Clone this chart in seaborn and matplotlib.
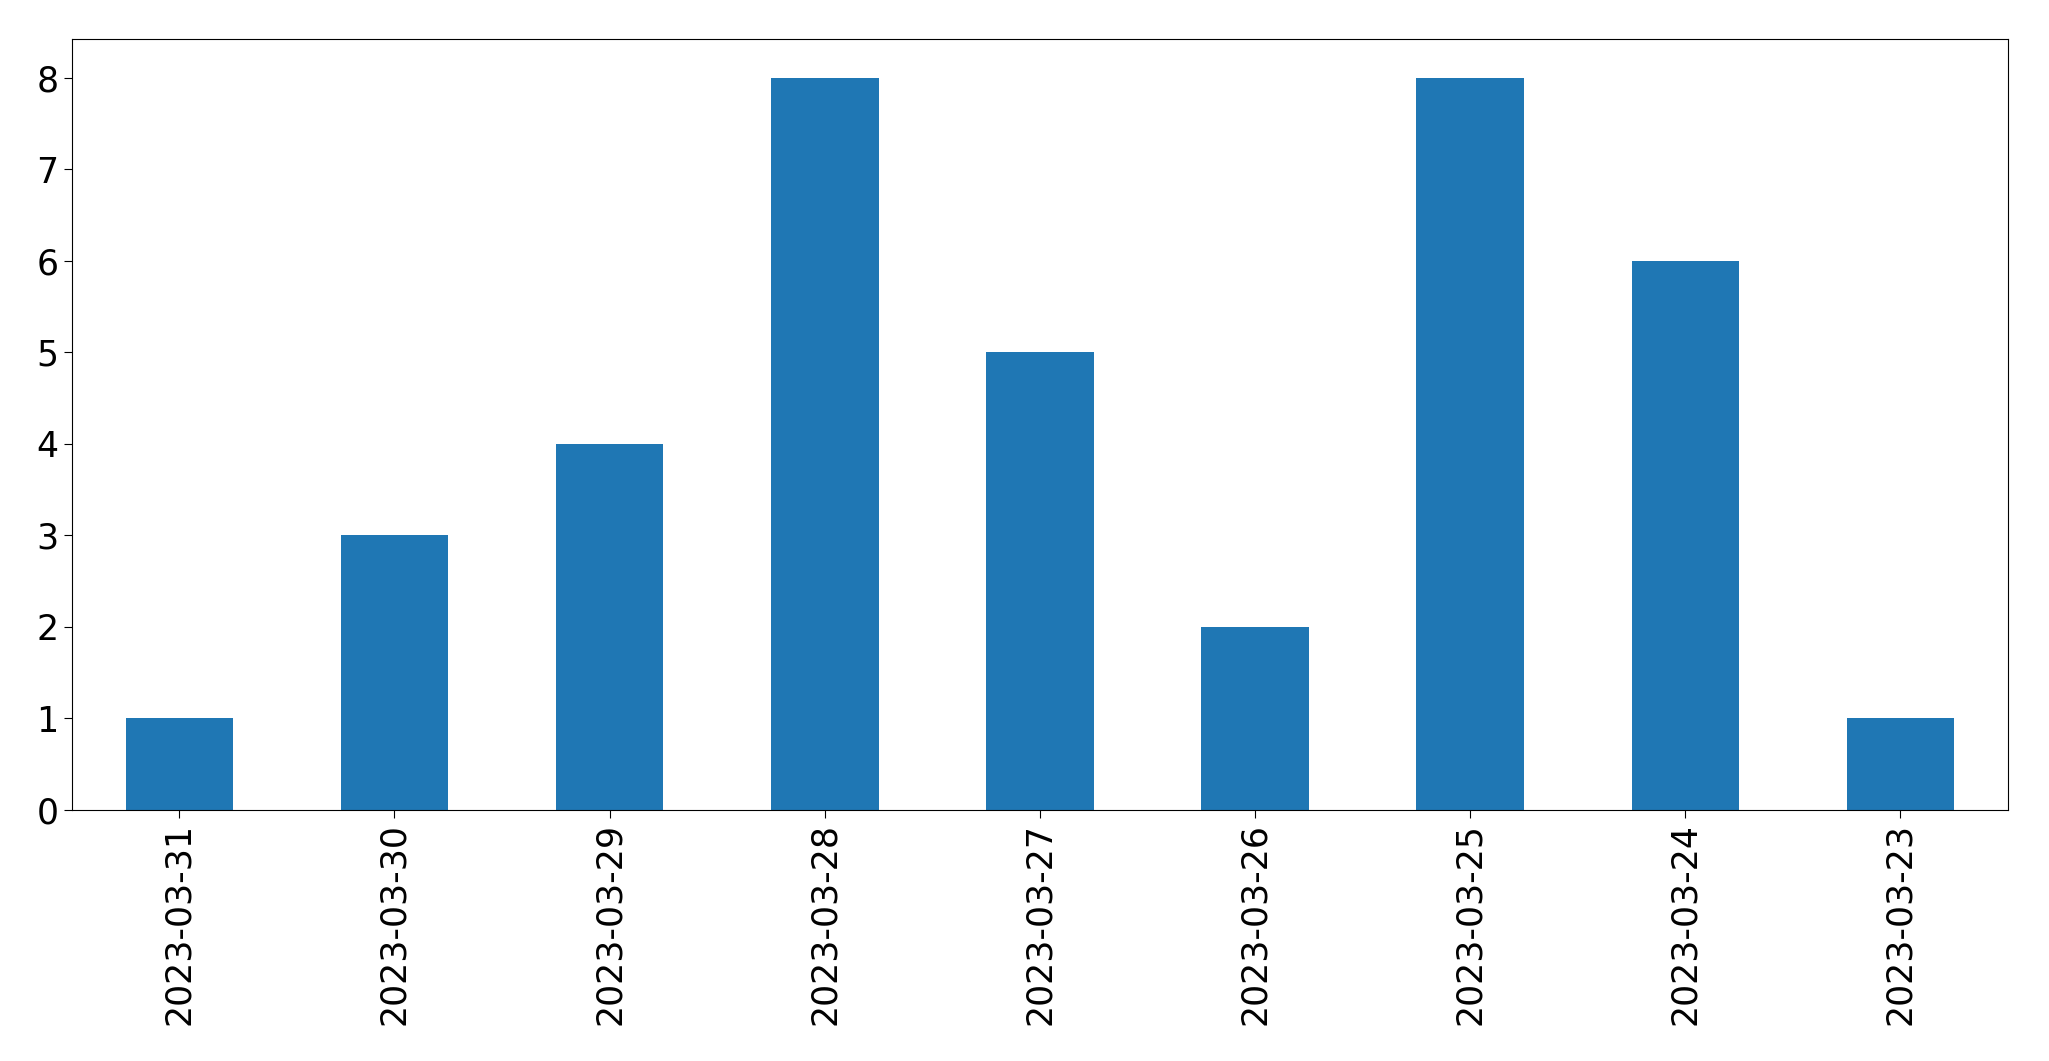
import pandas as pd
import seaborn as sns
import matplotlib
matplotlib.use("Agg")
import matplotlib.pyplot as plt

# Data
dates = ["2023-03-31", "2023-03-30", "2023-03-29", "2023-03-28", "2023-03-27",
         "2023-03-26", "2023-03-25", "2023-03-24", "2023-03-23"]
counts = [1, 3, 4, 8, 5, 2, 8, 6, 1]

df = pd.DataFrame({"date": dates, "count": counts})

fig, ax = plt.subplots(figsize=(20.49, 10.61), dpi=100)
sns.barplot(data=df, x="date", y="count", color="#1f77b4", saturation=1,
            width=0.5, linewidth=0, ax=ax)

ax.set_xlim(-0.5, len(dates) - 0.5)
ax.set_ylim(0, 8.42)
ax.set_xlabel("")
ax.set_ylabel("")
ax.tick_params(axis="both", labelsize=25, length=6)
ax.tick_params(axis="x", rotation=90)

plt.subplots_adjust(left=0.035, right=0.98, top=0.963, bottom=0.237)
plt.savefig("out.png", dpi=100)
